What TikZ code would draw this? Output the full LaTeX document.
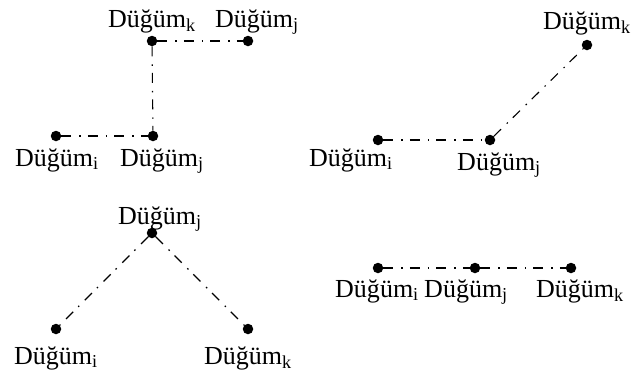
\documentclass[tikz,border=0pt]{standalone}
\usepackage{fontspec}
\setmainfont{Liberation Serif}
\tikzset{
  dot/.style={circle,fill=black,inner sep=0pt,minimum size=10.5pt},
  lbl/.style={anchor=base,inner sep=0pt,font=\fontsize{26}{30}\selectfont},
  link/.style={line width=1.1pt,dash pattern=on 10pt off 8pt on 1.5pt off 7pt}
}
\newcommand{\dg}[1]{Düğüm\textsubscript{#1}}
\begin{document}
\begin{tikzpicture}[x=1pt,y=-1pt]
\useasboundingbox (0,0) rectangle (631,376);
% Panel 1
\node[dot] (p1k) at (152,41) {};
\node[dot] (p1j) at (248,41) {};
\node[dot] (p1jb) at (153,136) {};
\node[dot] (p1i) at (56,136) {};
\draw[link] (p1k) -- (p1j);
\draw[link] (p1k) -- (p1jb);
\draw[link] (p1i) -- (p1jb);
\node[lbl] (l1k) at (152,27) {\dg{k}};
\node[lbl] (l1j) at (257,27) {\dg{j}};
\node[lbl] (l1i) at (57,166) {\dg{i}};
\node[lbl] (l1jb) at (162,166) {\dg{j}};
% Panel 2
\node[dot] (p2i) at (378,140) {};
\node[dot] (p2j) at (490,140) {};
\node[dot] (p2k) at (587,45) {};
\draw[link] (p2i) -- (p2j);
\draw[link] (p2j) -- (p2k);
\node[lbl] (l2i) at (351,166) {\dg{i}};
\node[lbl] (l2j) at (499,170) {\dg{j}};
\node[lbl] (l2k) at (587,29) {\dg{k}};
% Panel 3
\node[dot] (p3j) at (152,233) {};
\node[dot] (p3i) at (56,329) {};
\node[dot] (p3k) at (248,329) {};
\draw[link] (p3j) -- (p3i);
\draw[link] (p3j) -- (p3k);
\node[lbl] (l3j) at (160,224) {\dg{j}};
\node[lbl] (l3i) at (56,364) {\dg{i}};
\node[lbl] (l3k) at (248,364) {\dg{k}};
% Panel 4
\node[dot] (p4i) at (378,268) {};
\node[dot] (p4j) at (475,268) {};
\node[dot] (p4k) at (571,268) {};
\draw[link] (p4i) -- (p4j);
\draw[link] (p4j) -- (p4k);
\node[lbl] (l4i) at (377,297) {\dg{i}};
\node[lbl] (l4j) at (466,297) {\dg{j}};
\node[lbl] (l4k) at (580,297) {\dg{k}};
\end{tikzpicture}
\end{document}
